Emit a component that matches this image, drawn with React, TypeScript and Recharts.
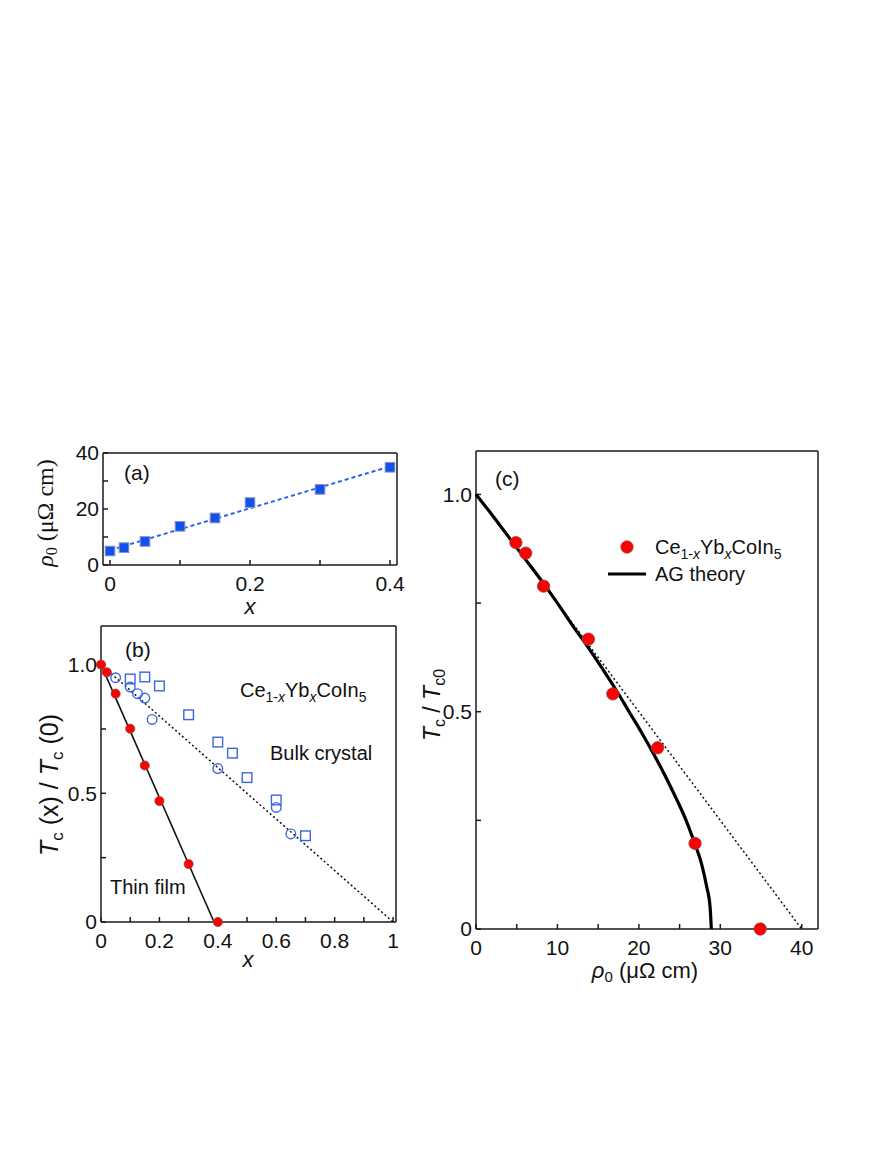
import { ScatterChart, Scatter, XAxis, YAxis } from "recharts";
import type { ReactNode } from "react";

const SANS = "'Liberation Sans', Arial, Helvetica, sans-serif";
const SERIF = "'Liberation Serif', 'Times New Roman', serif";

// (a) residual resistivity of the films vs Yb content
const xA = [0, 0.02, 0.05, 0.1, 0.15, 0.2, 0.3, 0.4];
const rho0A = [5.0, 6.2, 8.4, 13.8, 16.8, 22.3, 27.0, 34.9];
const fitAx = [0, 0.4];
const fitAy = [5.3, 35.2];

// (b) normalised Tc vs x
const xFilm = [0, 0.02, 0.05, 0.1, 0.15, 0.2, 0.3, 0.4];
const tcFilm = [1.0, 0.97, 0.887, 0.751, 0.608, 0.47, 0.225, 0.0];
const xBulkCirc = [0.05, 0.1, 0.125, 0.15, 0.175, 0.4, 0.6, 0.65];
const tcBulkCirc = [0.949, 0.913, 0.887, 0.87, 0.787, 0.596, 0.445, 0.342];
const xBulkSq = [0.1, 0.15, 0.2, 0.3, 0.4, 0.45, 0.5, 0.6, 0.7];
const tcBulkSq = [0.944, 0.952, 0.917, 0.805, 0.699, 0.656, 0.561, 0.474, 0.335];
const filmLineX = [0, 0.387];
const filmLineY = [1, 0];
const bulkLineX = [0, 1];
const bulkLineY = [1, 0];

// (c) Tc/Tc0 vs rho0, with AG pair-breaking curve
const rho0C = [4.9, 6.1, 8.3, 13.8, 16.8, 22.3, 26.9, 34.9];
const tcC = [0.889, 0.865, 0.789, 0.667, 0.541, 0.417, 0.197, 0.0];
const agRho = [0, 2.1, 4.1, 6.1, 8.1, 10.0, 11.8, 13.7, 15.5, 17.2, 18.8, 20.4, 21.9, 23.3, 24.6, 25.8, 26.8, 27.7, 28.3, 28.75, 28.9];
const agT = [1.0, 0.95, 0.9, 0.85, 0.8, 0.75, 0.7, 0.65, 0.6, 0.55, 0.5, 0.45, 0.4, 0.35, 0.3, 0.25, 0.2, 0.15, 0.1, 0.05, 0];
const linRho = [0, 40];
const linT = [1, 0];

// ticks and their labels ("" = tick mark only)
const ticksAx = [0, 0.1, 0.2, 0.3, 0.4];
const labelsAx = ["0", "", "0.2", "", "0.4"];
const ticksAy = [0, 10, 20, 30, 40];
const labelsAy = ["0", "", "20", "", "40"];
const ticksBx = [0, 0.1, 0.2, 0.3, 0.4, 0.5, 0.6, 0.7, 0.8, 0.9, 1];
const labelsBx = ["0", "", "0.2", "", "0.4", "", "0.6", "", "0.8", "", "1"];
const ticksT = [0, 0.25, 0.5, 0.75, 1];
const labelsT = ["0", "", "0.5", "", "1.0"];
const ticksCx = [0, 5, 10, 15, 20, 25, 30, 35, 40];
const labelsCx = ["0", "", "10", "", "20", "", "30", "", "40"];

const pts = (xs: number[], ys: number[]) => xs.map((x, i) => ({ x, y: ys[i] }));

const axisStroke = { stroke: "#1a1a1a", strokeWidth: 1.5 };
const tickFont = { fontSize: 21, fill: "#111", fontFamily: SANS };

const noMark = () => <g />;
const redDot = (r: number) => (p: any) => (
  <circle cx={p.cx} cy={p.cy} r={r} fill="#ff0000" stroke="#8a5050" strokeWidth={0.8} />
);
const blueSquare = (p: any) => (
  <rect x={p.cx - 4.8} y={p.cy - 4.8} width={9.6} height={9.6} fill="#1450ee" stroke="#8090c0" strokeWidth={1} />
);
const openSquare = (p: any) => (
  <rect x={p.cx - 4.8} y={p.cy - 4.8} width={9.6} height={9.6} fill="none" stroke="#3a66e0" strokeWidth={1.4} />
);
const openCircle = (p: any) => (
  <circle cx={p.cx} cy={p.cy} r={4.8} fill="none" stroke="#3a66e0" strokeWidth={1.4} />
);

type Box = { left: number; top: number; right: number; bottom: number };

interface PanelProps {
  box: Box;
  padLeft: number;
  padRight: number;
  xDomain: [number, number];
  yDomain: [number, number];
  xTicks: number[];
  xLabels: string[];
  yTicks: number[];
  yLabels: string[];
  children: ReactNode;
}

function Panel({ box, padLeft, padRight, xDomain, yDomain, xTicks, xLabels, yTicks, yLabels, children }: PanelProps) {
  const padTop = 20;
  const padBottom = 40;
  const w = box.right - box.left + padLeft + padRight;
  const h = box.bottom - box.top + padTop + padBottom;
  const fmt = (ticks: number[], labels: string[]) => (v: number) => labels[ticks.indexOf(v)] ?? "";
  return (
    <div style={{ position: "absolute", left: box.left - padLeft, top: box.top - padTop }}>
      <ScatterChart width={w} height={h} margin={{ top: padTop - 1, right: padRight - 1, bottom: 0, left: 0 }}>
        <XAxis
          dataKey="x"
          type="number"
          domain={xDomain}
          ticks={xTicks}
          interval={0}
          tickFormatter={fmt(xTicks, xLabels)}
          height={padBottom}
          tickSize={-5}
          tickMargin={16}
          axisLine={axisStroke}
          tickLine={axisStroke}
          tick={tickFont}
        />
        <XAxis
          xAxisId="top"
          orientation="top"
          type="number"
          domain={xDomain}
          allowDataOverflow
          ticks={xTicks}
          interval={0}
          height={1}
          tickSize={-5}
          tick={false}
          axisLine={axisStroke}
          tickLine={axisStroke}
        />
        <YAxis
          dataKey="y"
          type="number"
          domain={yDomain}
          ticks={yTicks}
          interval={0}
          tickFormatter={fmt(yTicks, yLabels)}
          width={padLeft}
          tickSize={-5}
          tickMargin={9}
          axisLine={axisStroke}
          tickLine={axisStroke}
          tick={tickFont}
        />
        <YAxis
          yAxisId="right"
          orientation="right"
          type="number"
          domain={yDomain}
          allowDataOverflow
          ticks={yTicks}
          interval={0}
          width={1}
          tickSize={-5}
          tick={false}
          axisLine={axisStroke}
          tickLine={axisStroke}
        />
        {children}
      </ScatterChart>
    </div>
  );
}

function Compound({ x, y, size = 20 }: { x: number; y: number; size?: number }) {
  const s = Math.round(size * 0.7);
  return (
    <text x={x} y={y} fontSize={size} fontFamily={SANS} fill="#111">
      Ce
      <tspan fontSize={s} dy={5}>1-</tspan>
      <tspan fontSize={s} fontStyle="italic">x</tspan>
      <tspan dy={-5}>Yb</tspan>
      <tspan fontSize={s} dy={5} fontStyle="italic">x</tspan>
      <tspan dy={-5}>CoIn</tspan>
      <tspan fontSize={s} dy={5}>5</tspan>
    </text>
  );
}

export default function App() {
  return (
    <div style={{ position: "absolute", left: 0, top: 0, width: 889, height: 1150, background: "#fff" }}>
      {/* (a) */}
      <Panel
        box={{ left: 103, top: 453, right: 397, bottom: 565 }}
        padLeft={100}
        padRight={10}
        xDomain={[-0.01, 0.41]}
        yDomain={[0, 40]}
        xTicks={ticksAx}
        xLabels={labelsAx}
        yTicks={ticksAy}
        yLabels={labelsAy}
      >
        <Scatter
          data={pts(fitAx, fitAy)}
          line={{ stroke: "#2a62f0", strokeWidth: 2, strokeDasharray: "4 3" }}
          shape={noMark}
          isAnimationActive={false}
        />
        <Scatter data={pts(xA, rho0A)} shape={blueSquare} isAnimationActive={false} />
      </Panel>

      {/* (b) */}
      <Panel
        box={{ left: 101, top: 626, right: 396, bottom: 922 }}
        padLeft={100}
        padRight={10}
        xDomain={[0, 1.01]}
        yDomain={[0, 1.15]}
        xTicks={ticksBx}
        xLabels={labelsBx}
        yTicks={ticksT}
        yLabels={labelsT}
      >
        <Scatter
          data={pts(bulkLineX, bulkLineY)}
          line={{ stroke: "#111", strokeWidth: 1.5, strokeDasharray: "2 2.5" }}
          shape={noMark}
          isAnimationActive={false}
        />
        <Scatter
          data={pts(filmLineX, filmLineY)}
          line={{ stroke: "#111", strokeWidth: 1.6 }}
          shape={noMark}
          isAnimationActive={false}
        />
        <Scatter data={pts(xBulkSq, tcBulkSq)} shape={openSquare} isAnimationActive={false} />
        <Scatter data={pts(xBulkCirc, tcBulkCirc)} shape={openCircle} isAnimationActive={false} />
        <Scatter data={pts(xFilm, tcFilm)} shape={redDot(4.6)} isAnimationActive={false} />
      </Panel>

      {/* (c) */}
      <Panel
        box={{ left: 476, top: 451, right: 818, bottom: 929 }}
        padLeft={60}
        padRight={40}
        xDomain={[0, 42]}
        yDomain={[0, 1.1]}
        xTicks={ticksCx}
        xLabels={labelsCx}
        yTicks={ticksT}
        yLabels={labelsT}
      >
        <Scatter
          data={pts(linRho, linT)}
          line={{ stroke: "#111", strokeWidth: 1.5, strokeDasharray: "2 2.5" }}
          shape={noMark}
          isAnimationActive={false}
        />
        <Scatter
          data={pts(agRho, agT)}
          line={{ stroke: "#000", strokeWidth: 3.2 }}
          lineJointType="monotoneX"
          shape={noMark}
          isAnimationActive={false}
        />
        <Scatter data={pts(rho0C, tcC)} shape={redDot(6.2)} isAnimationActive={false} />
      </Panel>

      {/* annotations, axis titles, legend */}
      <svg
        width={889}
        height={1150}
        style={{ position: "absolute", left: 0, top: 0, pointerEvents: "none" }}
      >
        <g fontFamily={SANS} fill="#111">
          <text x={124} y={480} fontSize={21}>(a)</text>
          <text x={125} y={657} fontSize={21}>(b)</text>
          <text x={495} y={486} fontSize={21}>(c)</text>
          <text x={270} y={760} fontSize={20}>Bulk crystal</text>
          <text x={110} y={894} fontSize={20}>Thin film</text>
          <text x={250} y={614} fontSize={22} fontStyle="italic" textAnchor="middle">x</text>
          <text x={248} y={967} fontSize={22} fontStyle="italic" textAnchor="middle">x</text>
        </g>
        <Compound x={240} y={697} />

        {/* (a) y title */}
        <text
          transform="translate(53,513) rotate(-90)"
          textAnchor="middle"
          fontFamily={SERIF}
          fontSize={24}
          fill="#111"
        >
          <tspan fontStyle="italic">ρ</tspan>
          <tspan fontSize={16} dy={4}>0</tspan>
          <tspan dy={-4}> (μΩ cm)</tspan>
        </text>

        {/* (b) y title */}
        <text
          transform="translate(58,785) rotate(-90)"
          textAnchor="middle"
          fontFamily={SANS}
          fontSize={25}
          fill="#111"
        >
          <tspan fontStyle="italic">T</tspan>
          <tspan fontSize={17} dy={5}>c</tspan>
          <tspan dy={-5}> (x) / </tspan>
          <tspan fontStyle="italic">T</tspan>
          <tspan fontSize={17} dy={5}>c</tspan>
          <tspan dy={-5}> (0)</tspan>
        </text>

        {/* (c) y title */}
        <text
          transform="translate(440,705) rotate(-90)"
          textAnchor="middle"
          fontFamily={SANS}
          fontSize={23}
          fill="#111"
        >
          <tspan fontStyle="italic">T</tspan>
          <tspan fontSize={16} dy={5}>c</tspan>
          <tspan dy={-5}> / </tspan>
          <tspan fontStyle="italic">T</tspan>
          <tspan fontSize={16} dy={5}>c0</tspan>
        </text>

        {/* (c) x title */}
        <text x={645} y={978} textAnchor="middle" fontFamily={SANS} fontSize={22} fill="#111">
          <tspan fontStyle="italic">ρ</tspan>
          <tspan fontSize={15} dy={4}>0</tspan>
          <tspan dy={-4}> (μΩ cm)</tspan>
        </text>

        {/* (c) legend */}
        <circle cx={627} cy={547} r={6.2} fill="#ff0000" stroke="#8a5050" strokeWidth={0.8} />
        <Compound x={655} y={554} />
        <line x1={608} y1={574} x2={646} y2={574} stroke="#000" strokeWidth={3.2} />
        <text x={655} y={581} fontFamily={SANS} fontSize={20} fill="#111">AG theory</text>
      </svg>
    </div>
  );
}
